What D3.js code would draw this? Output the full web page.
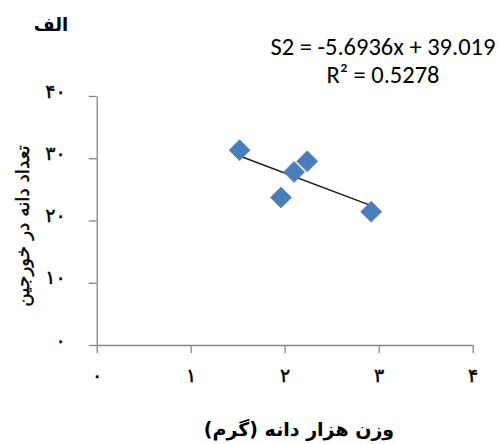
<!DOCTYPE html>
<html>
<head>
<meta charset="utf-8">
<script src="https://cdn.jsdelivr.net/npm/d3@7"></script>
<style>
  html, body { margin: 0; padding: 0; background: #fff; }
  svg { display: block; }
</style>
</head>
<body>
<script>
// ---- data ----
const xValues = [1.52, 2.24, 2.10, 1.96, 2.92];   // وزن هزار دانه (گرم)
const yValues = [31.3, 29.5, 27.8, 23.7, 21.4];   // تعداد دانه در خورجین
const xTicks = [0, 1, 2, 3, 4];
const yTicks = [0, 10, 20, 30, 40];
const slope = -5.6936;
const intercept = 39.019;
const equationText = "S2 = -5.6936x + 39.019";
const r2Text = "R² = 0.5278";
const chartTitle = "الف";
const xTitle = "وزن هزار دانه (گرم)";
const yTitle = "تعداد دانه در خورجین";

const W = 500, H = 444;
const fa = n => String(n).replace(/\d/g, d => "۰۱۲۳۴۵۶۷۸۹"[+d]);

const svg = d3.select("body").append("svg").attr("width", W).attr("height", H);

const x = d3.scaleLinear().domain([0, 4]).range([96.7, 472.7]);
const y = d3.scaleLinear().domain([0, 40]).range([345, 96]);

const axisColor = "#868686";
const persianFont = "DejaVu Sans";

// x axis
const gx = svg.append("g").attr("transform", `translate(0,${y(0)})`)
  .call(d3.axisBottom(x).tickValues(xTicks).tickSize(8).tickSizeOuter(0).tickFormat(fa));
// y axis
const gy = svg.append("g").attr("transform", `translate(${x(0)},0)`)
  .call(d3.axisLeft(y).tickValues(yTicks).tickSize(8).tickSizeOuter(0).tickFormat(fa));

[gx, gy].forEach(g => {
  g.select(".domain").attr("stroke", axisColor).attr("stroke-width", 1.3);
  g.selectAll(".tick line").attr("stroke", axisColor).attr("stroke-width", 1.3);
  g.selectAll(".tick text")
    .attr("font-family", persianFont).attr("font-size", 19)
    .attr("fill", "#000").attr("stroke", "#000").attr("stroke-width", 0.5);
});
gx.selectAll(".tick text").attr("y", 0).attr("dy", 0).attr("transform", "translate(0,37)");
gy.selectAll(".tick text").attr("x", 0).attr("dy", 0)
  .attr("text-anchor", "end").attr("transform", "translate(-31,1)");

// trendline over data range
const [xmin, xmax] = d3.extent(xValues);
svg.append("line")
  .attr("x1", x(xmin)).attr("y1", y(slope * xmin + intercept))
  .attr("x2", x(xmax)).attr("y2", y(slope * xmax + intercept))
  .attr("stroke", "#1a1a1a").attr("stroke-width", 1.4);

// diamonds
const diamond = d3.symbol().type(d3.symbolSquare).size(220);
svg.append("g").selectAll("path")
  .data(xValues.map((v, i) => [v, yValues[i]]))
  .join("path")
  .attr("d", diamond)
  .attr("transform", d => `translate(${x(d[0])},${y(d[1])}) rotate(45)`)
  .attr("fill", "#4A7EBB")
  .attr("stroke", "#5B8CC8").attr("stroke-width", 0.8);

// equation
const eq = svg.append("g").attr("font-family", "Carlito, Lato, sans-serif")
  .attr("font-size", 24.5).attr("fill", "#000").attr("text-anchor", "middle");
eq.append("text").attr("x", 383).attr("y", 55).text(equationText);
eq.append("text").attr("x", 383).attr("y", 83).text(r2Text);

// title
svg.append("text").attr("x", 51).attr("y", 31)
  .attr("text-anchor", "middle").attr("direction", "rtl")
  .attr("font-family", persianFont).attr("font-weight", "bold").attr("font-size", 18)
  .text(chartTitle);

// x title
svg.append("text").attr("x", 299).attr("y", 436)
  .attr("text-anchor", "middle").attr("direction", "rtl")
  .attr("font-family", persianFont).attr("font-weight", "bold").attr("font-size", 19)
  .text(xTitle);

// y title
svg.append("text").attr("transform", "translate(29,226) rotate(-90)")
  .attr("text-anchor", "middle").attr("direction", "rtl")
  .attr("font-family", persianFont).attr("font-size", 18.5)
  .attr("fill", "#000").attr("stroke", "#000").attr("stroke-width", 0.4)
  .text(yTitle);
</script>
</body>
</html>
